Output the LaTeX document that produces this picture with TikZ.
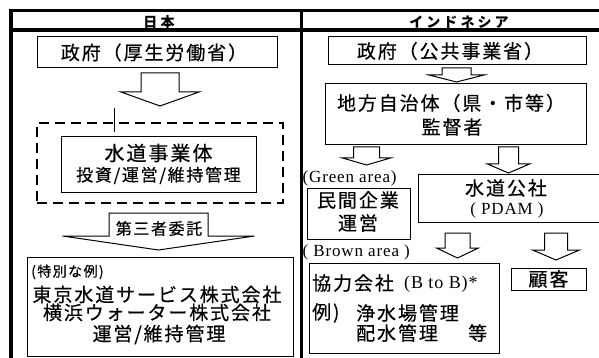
\documentclass[tikz,border=0pt]{standalone}
\usepackage{fontspec}
\setmainfont{Noto Sans CJK JP}
\newfontfamily\jp[LetterSpace=10,FakeBold=0.4]{Noto Sans CJK JP}
\newfontfamily\jphead[LetterSpace=22]{Noto Sans CJK JP}
\newfontfamily\tms[LetterSpace=5]{Liberation Serif}
\newcommand{\blockarrow}[6]{%
  \draw[blockarr] (#1-#2,#3) -- (#1+#2,#3) -- (#1+#2,#4) -- (#1+#5,#4) -- (#1,#6) -- (#1-#5,#4) -- (#1-#2,#4) -- cycle;}
\begin{document}
\begin{tikzpicture}[x=1pt,y=-1pt,
  box/.style={draw, line width=1pt, inner sep=0pt},
  txt/.style={inner sep=0pt, font=\jp\fontsize{19}{22}\selectfont},
  small/.style={inner sep=0pt, font=\jp\fontsize{17}{20}\selectfont},
  head/.style={inner sep=0pt, font=\jphead\bfseries\fontsize{14}{15}\selectfont},
  roman/.style={inner sep=0pt, font=\tms\fontsize{17}{19}\selectfont},
  blockarr/.style={draw, line width=1pt, fill=white, line join=miter},
  frame/.style={line width=3.5pt}]
\useasboundingbox (0,0) rectangle (599,358);
\fill[white] (0,0) rectangle (599,358);
% frame
\draw[frame] (9,10.5) -- (615,10.5);
\draw[frame] (9,30) -- (615,30);
\draw[line width=4pt] (11,9) -- (11,365);
\draw[line width=3.5pt] (301.7,9) -- (301.7,365);
\node[head] (hjp) at (159,22) {日本};
\node[head] (hid) at (459,22) {インドネシア};
% ---------- Japan ----------
\node[box, minimum width=240pt, minimum height=31pt] (jgov) at (157,52.5) {};
\node[txt] (jgovt) at (154,52.5) {政府（厚生労働省）};
\blockarrow{160}{19}{73}{92}{39}{106}
\draw[line width=1pt] (114,108) -- (114,132);
\node[draw, line width=2.5pt, dash pattern=on 10pt off 6pt, inner sep=0pt,
      minimum width=246pt, minimum height=80pt] (jdash) at (160,163) {};
\node[box, minimum width=195pt, minimum height=55pt, fill=white] (jwater) at (158.5,164.5) {};
\node[inner sep=0pt, font=\jp\fontsize{20}{22}\selectfont] (jw1) at (158.5,153) {水道事業体};
\node[small] (jw2) at (158.5,175.5) {投資/運営/維持管理};
\blockarrow{158.5}{49.5}{213}{236}{96}{250}
\node[inner sep=0pt, font=\jp\fontsize{16}{18}\selectfont] (jthird) at (159,228.5) {第三者委託};
\node[box, minimum width=266pt, minimum height=99pt] (jex) at (160,306.5) {};
\node[inner sep=0pt, font=\jp\fontsize{14}{16}\selectfont, anchor=west] (jex0) at (31,272) {(特別な例)};
\node[txt] (jex1) at (157,294.5) {東京水道サービス株式会社};
\node[txt] (jex2) at (157,312.5) {横浜ウォーター株式会社};
\node[txt] (jex3) at (159,334.5) {運営/維持管理};
% ---------- Indonesia ----------
\node[box, minimum width=258pt, minimum height=28pt] (igov) at (457,51) {};
\node[txt] (igovt) at (450,51) {政府（公共事業省）};
\blockarrow{456.5}{14.5}{68}{75}{27.5}{82}
\node[box, minimum width=261pt, minimum height=61pt] (iloc) at (455.5,114.5) {};
\node[txt] (iloc1) at (451,103) {地方自治体（県・市等）};
\node[txt] (iloc2) at (452,127) {監督者};
\blockarrow{366.5}{13}{147}{158}{24}{165}
\blockarrow{508.5}{10}{147}{164}{21}{173}
\node[roman, anchor=west] (green) at (302.5,178) {(Green area)};
\node[box, minimum width=103pt, minimum height=51pt] (mink) at (358.5,213.5) {};
\node[txt] (mink1) at (358,200) {民間企業};
\node[txt] (mink2) at (358,223) {運営};
\node[box, minimum width=190pt, minimum height=47pt, anchor=west] (pdam) at (418,198.5) {};
\node[txt] (pdam1) at (506,188) {水道公社};
\node[roman] (pdam2) at (507,210) {( PDAM )};
\blockarrow{457.5}{12.5}{233}{248}{21}{258}
\blockarrow{556}{11.5}{233}{250}{23.5}{260}
\node[roman, anchor=west] (brown) at (302.5,252) {( Brown area )};
\node[box, minimum width=190pt, minimum height=90pt] (kyo) at (404,308) {};
\node[txt, anchor=west] (kyo1) at (312,283) {協力会社};
\node[inner sep=0pt, font=\tms\fontsize{18}{20}\selectfont, anchor=west] (kyo1b) at (404,284) {(B to B)*};
\node[txt, anchor=west] (kyo2a) at (312,313) {例)};
\node[txt, anchor=west] (kyo2b) at (356,313) {浄水場管理};
\node[txt, anchor=west] (kyo3a) at (356,333) {配水管理};
\node[txt, anchor=west] (kyo3b) at (468,333) {等};
\node[box, minimum width=75pt, minimum height=22pt] (kok) at (548.5,279) {};
\node[txt] (kokt) at (548.5,279) {顧客};
\end{tikzpicture}
\end{document}
